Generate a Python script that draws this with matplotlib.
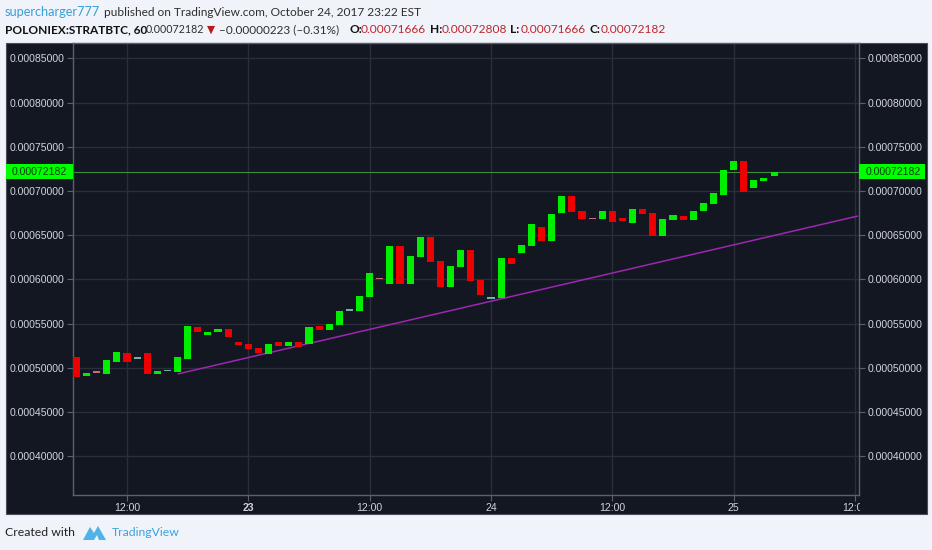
import matplotlib
matplotlib.use("Agg")
import matplotlib.pyplot as plt
from matplotlib.patches import Rectangle, Polygon
from matplotlib.transforms import Bbox, TransformedBbox

# ---------------- data ----------------
# hours relative to 22 Oct 2017 12:00 (one candle per hour, 60-minute chart)
candle_hours = list(range(-5, 65))
opens = [0.0005122, 0.0004907, 0.0004964, 0.0004930, 0.0005066, 0.0005167, 0.0005100, 0.0005167, 0.0004930, 0.0004964,
         0.0004953, 0.0005100, 0.0005462, 0.0005371, 0.0005405, 0.0005439, 0.0005292, 0.0005269, 0.0005224, 0.0005156,
         0.0005292, 0.0005247, 0.0005292, 0.0005269, 0.0005473, 0.0005428, 0.0005484, 0.0005643, 0.0005643, 0.0005801,
         0.0006016, 0.0005948, 0.0006378, 0.0005948, 0.0006253, 0.0006480, 0.0006208, 0.0005914, 0.0006140, 0.0006333,
         0.0005993, 0.0005778, 0.0005790, 0.0006242, 0.0006299, 0.0006378, 0.0006593, 0.0006434, 0.0006751, 0.0006943,
         0.0006774, 0.0006695, 0.0006683, 0.0006774, 0.0006695, 0.0006638, 0.0006796, 0.0006751, 0.0006491, 0.0006672,
         0.0006717, 0.0006672, 0.0006774, 0.0006853, 0.0006955, 0.0007238, 0.0007339, 0.0007034, 0.0007113, 0.00071666]
closes = [0.0004896, 0.0004941, 0.0004941, 0.0005088, 0.0005179, 0.0005066, 0.0005122, 0.0004930, 0.0004964, 0.0004975,
          0.0005122, 0.0005473, 0.0005405, 0.0005405, 0.0005439, 0.0005348, 0.0005258, 0.0005213, 0.0005167, 0.0005269,
          0.0005247, 0.0005292, 0.0005235, 0.0005462, 0.0005428, 0.0005496, 0.0005643, 0.0005665, 0.0005812, 0.0006072,
          0.0006005, 0.0006378, 0.0005948, 0.0006265, 0.0006480, 0.0006197, 0.0005914, 0.0006152, 0.0006333, 0.0005982,
          0.0005824, 0.0005801, 0.0006242, 0.0006174, 0.0006389, 0.0006627, 0.0006434, 0.0006740, 0.0006943, 0.0006762,
          0.0006683, 0.0006683, 0.0006774, 0.0006649, 0.0006661, 0.0006796, 0.0006740, 0.0006491, 0.0006683, 0.0006728,
          0.0006672, 0.0006774, 0.0006864, 0.0006977, 0.0007238, 0.0007339, 0.0006989, 0.0007124, 0.0007147, 0.00072182]
trend_hours = [5, 72.3]
trend_prices = [0.0004930, 0.0006717]
last_price = 0.00072182
y_ticks = [0.00040, 0.00045, 0.00050, 0.00055, 0.00060, 0.00065, 0.00070, 0.00075, 0.00080, 0.00085]
x_ticks = [0, 12, 24, 36, 48, 60, 72]
x_tick_labels = ["12:00", "23", "12:00", "24", "12:00", "25", "12:00"]

author = "supercharger777"
published = " published on TradingView.com, October 24, 2017 23:22 EST"
symbol = "POLONIEX:STRATBTC, 60"
last_txt = "0.00072182"
change_txt = "\u20130.00000223 (\u20130.31%)"
ohlc_labels = ["O:", "H:", "L:", "C:"]
ohlc_values = ["0.00071666", "0.00072808", "0.00071666", "0.00072182"]

# ---------------- layout ----------------
W, H = 932, 550
BG = "#131722"
GRID = "#2a2e39"
AXC = "#5d606b"
UP, DOWN = "#00ee00", "#ee0000"
UP_THIN, DOWN_THIN = "#6fb3a8", "#c86e78"
TICK_FS = 7.6

fig = plt.figure(figsize=(W / 100, H / 100), dpi=100, facecolor="#f0f3fa")

def fx(px):
    return px / W

def fy(py):
    return 1 - py / H

fig.patches.append(Rectangle((fx(6), fy(514)), fx(927) - fx(6), fy(43) - fy(514),
                             transform=fig.transFigure, facecolor=BG, edgecolor="#4a4e59", lw=0.8, zorder=-10))

ax_l, ax_r, ax_t, ax_b = 72.7, 859.3, 43, 495
ax = fig.add_axes([fx(ax_l), fy(ax_b), fx(ax_r) - fx(ax_l), fy(ax_t) - fy(ax_b)])
ax.set_zorder(1)
ax.set_facecolor(BG)
ax.set_xlim(-5.37, 72.43)
ax.set_ylim(0.0003561, 0.0008674)

ax.set_yticks(y_ticks)
ax.set_yticklabels(["%.8f" % v for v in y_ticks])
ax.set_xticks(x_ticks)
ax.set_xticklabels(x_tick_labels)
ax.grid(True, color=GRID, lw=1)
ax.set_axisbelow(True)
for s in ax.spines.values():
    s.set_color(AXC)
    s.set_linewidth(1)
ax.tick_params(axis="y", left=True, right=True, labelleft=True, labelright=True,
               color=AXC, labelcolor="#d1d4dc", length=4, pad=2, labelsize=TICK_FS)
ax.tick_params(axis="x", bottom=True, color=AXC, labelcolor="#d1d4dc", length=4, pad=2, labelsize=TICK_FS)
for lab in ax.get_yticklabels() + ax.get_xticklabels():
    lab.set_fontfamily("Liberation Sans")
ax.get_xticklabels()[1].set_fontweight("bold")
clip = TransformedBbox(Bbox([[0, 0], [fx(ax_r + 0.5), 1]]), fig.transFigure)
last_lab = ax.get_xticklabels()[-1]
last_lab.set_clip_on(True)
last_lab.set_clip_box(clip)

# candles (bodies only)
bottoms, heights, colors = [], [], []
for o, c in zip(opens, closes):
    bottoms.append(min(o, c))
    heights.append(abs(c - o))
    thin = abs(c - o) < 2.5e-6
    if c >= o:
        colors.append(UP_THIN if thin else UP)
    else:
        colors.append(DOWN_THIN if thin else DOWN)
ax.bar(candle_hours, heights, bottom=bottoms, width=0.7, color=colors, linewidth=0, zorder=3)

# trend line and last price line
ax.plot(trend_hours, trend_prices, color="#9c27b0", lw=1.1, zorder=2, solid_capstyle="butt")
ax.axhline(last_price, color="#3a8f3a", lw=0.8, zorder=2)

# last price boxes on both scales
fig.canvas.draw()
py = H - ax.transData.transform((0, last_price))[1]
for x0, x1 in [(6, ax_l), (ax_r, 925)]:
    fig.patches.append(Rectangle((fx(x0), fy(py + 7.5)), fx(x1) - fx(x0), 15 / H,
                                 transform=fig.transFigure, facecolor="#00ff00", edgecolor="none", zorder=5))
fig.text(fx(ax_l - 6), fy(py), last_txt, ha="right", va="center", fontsize=TICK_FS,
         family="Liberation Sans", color="#0b3d0b", zorder=6)
fig.text(fx(ax_r + 6.5), fy(py), last_txt, ha="left", va="center", fontsize=TICK_FS,
         family="Liberation Sans", color="#0b3d0b", zorder=6)

# header
HF = ["Lato", "DejaVu Sans"]
DARK = "#2f2f2f"
RED = "#c0262d"
fig.text(fx(5), fy(16), author, fontsize=9.2, family=HF, color="#3a9fd5", va="baseline")
fig.text(fx(101), fy(16), published, fontsize=8.55, family=HF, color=DARK, va="baseline")

b2 = fy(33)
fig.text(fx(5), b2, symbol, fontsize=8.6, family=HF, color="#111111", weight="bold", va="baseline")
fig.text(fx(146), b2, last_txt, fontsize=7.7, family=HF, color=DARK, va="baseline")
fig.text(fx(206.5), b2, "\u25bc", fontsize=7.6, family=["DejaVu Sans"], color="#b71c1c", va="baseline")
fig.text(fx(219), b2, change_txt, fontsize=8.5, family=HF, color=DARK, va="baseline")
label_x = [349, 430, 510, 589]
value_x = [361, 442, 521, 601]
for lx, vx, lt, vt in zip(label_x, value_x, ohlc_labels, ohlc_values):
    fig.text(fx(lx), b2, lt, fontsize=8.6, family=HF, color="#111111", weight="bold", va="baseline")
    fig.text(fx(vx), b2, vt, fontsize=8.6, family=HF, color=RED, va="baseline")

# footer
fig.text(fx(5), fy(533), "Created with", fontsize=8.8, family=HF, color="#222222", va="center")
fig.patches.append(Polygon([[fx(83), fy(540)], [fx(90), fy(527)], [fx(94), fy(533)], [fx(98), fy(526)],
                            [fx(106), fy(540)], [fx(99), fy(540)], [fx(97), fy(535)], [fx(94), fy(540)]],
                           closed=True, transform=fig.transFigure, facecolor="#4fb3e8", edgecolor="none"))
fig.text(fx(112), fy(533), "TradingView", fontsize=8.8, family=HF, color="#3ba3dc", va="center")

fig.savefig("out.png", dpi=100, facecolor=fig.get_facecolor())
